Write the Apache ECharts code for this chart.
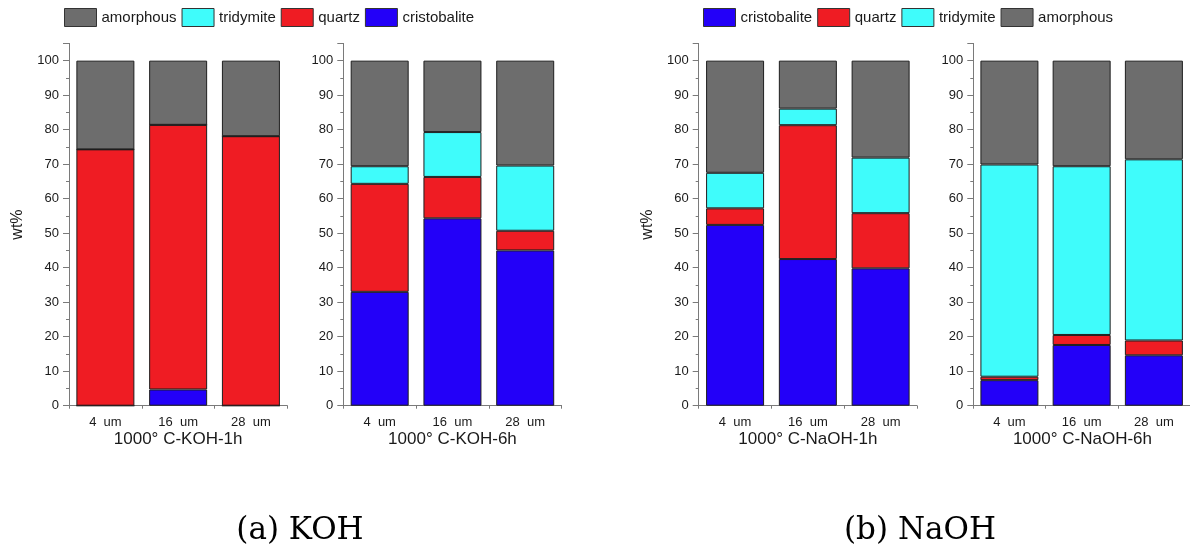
<!DOCTYPE html>
<html>
<head>
<meta charset="utf-8">
<script src="https://cdn.jsdelivr.net/npm/echarts@6/dist/echarts.min.js"></script>
<style>
html,body{margin:0;padding:0;background:#fff;}
#chart{width:1190px;height:551px;}
</style>
</head>
<body>
<div id="chart"></div>
<script>
// ---- data ----
var categories = ['4  um', '16  um', '28  um'];
var phases = ['cristobalite', 'quartz', 'tridymite', 'amorphous'];
var panelTitles = ['1000° C-KOH-1h', '1000° C-KOH-6h', '1000° C-NaOH-1h', '1000° C-NaOH-6h'];
var captions = ['(a) KOH', '(b) NaOH'];
var yTicks = [0, 10, 20, 30, 40, 50, 60, 70, 80, 90, 100];

var koh1h_cristobalite = [0, 4.7, 0];
var koh1h_quartz       = [74.3, 76.7, 78.1];
var koh1h_tridymite    = [0, 0, 0];
var koh1h_amorphous    = [25.7, 18.6, 21.9];

var koh6h_cristobalite = [33.0, 54.3, 45.0];
var koh6h_quartz       = [31.3, 12.0, 5.7];
var koh6h_tridymite    = [5.1, 13.0, 18.9];
var koh6h_amorphous    = [30.6, 20.7, 30.4];

var naoh1h_cristobalite = [52.4, 42.5, 39.8];
var naoh1h_quartz       = [4.8, 38.8, 16.0];
var naoh1h_tridymite    = [10.3, 4.8, 16.1];
var naoh1h_amorphous    = [32.5, 13.9, 28.1];

var naoh6h_cristobalite = [7.4, 17.6, 14.6];
var naoh6h_quartz       = [1.0, 2.9, 4.3];
var naoh6h_tridymite    = [61.5, 48.9, 52.5];
var naoh6h_amorphous    = [30.1, 30.6, 28.6];

var panelData = [
  [koh1h_cristobalite, koh1h_quartz, koh1h_tridymite, koh1h_amorphous],
  [koh6h_cristobalite, koh6h_quartz, koh6h_tridymite, koh6h_amorphous],
  [naoh1h_cristobalite, naoh1h_quartz, naoh1h_tridymite, naoh1h_amorphous],
  [naoh6h_cristobalite, naoh6h_quartz, naoh6h_tridymite, naoh6h_amorphous]
];

// ---- styles ----
var colors = {cristobalite: '#2300f8', quartz: '#ef1c23', tridymite: '#3ffcfb', amorphous: '#6d6d6d'};
var gridLefts = [69, 343.3, 698.7, 973.3];
var gridWidth = 218.3;
var gridTop = 43.4;
var gridHeight = 362.3;
var axisColor = '#7a7a7a';
var textColor = '#1a1a1a';
var FONT = '"Liberation Sans", Arial, sans-serif';

var grids = [], xAxes = [], yAxes = [], series = [], graphics = [];

gridLefts.forEach(function (left, g) {
  grids.push({left: left, top: gridTop, width: gridWidth, height: gridHeight});
  xAxes.push({
    type: 'category', gridIndex: g, data: categories,
    axisLine: {lineStyle: {color: axisColor, width: 1}},
    axisTick: {alignWithLabel: true, length: 5, lineStyle: {color: axisColor}},
    axisLabel: {color: textColor, fontSize: 13, fontFamily: FONT, margin: 10}
  });
  xAxes.push({
    type: 'category', gridIndex: g, data: categories, position: 'bottom',
    axisLine: {show: false},
    axisTick: {show: true, length: 3, lineStyle: {color: axisColor}},
    axisLabel: {show: false}
  });
  var showName = (g === 0 || g === 2);
  yAxes.push({
    type: 'value', gridIndex: g, min: 0, max: 105, interval: 10,
    name: showName ? 'wt%' : '', nameLocation: 'middle', nameGap: 43,
    nameTextStyle: {color: textColor, fontSize: 16, fontFamily: FONT},
    axisLine: {show: true, lineStyle: {color: axisColor, width: 1}},
    axisTick: {show: true, length: 6, lineStyle: {color: axisColor}},
    minorTick: {show: true, splitNumber: 2, length: 3, lineStyle: {color: axisColor}},
    splitLine: {show: false},
    axisLabel: {
      color: textColor, fontSize: 13, fontFamily: FONT, margin: 10,
      formatter: function (v) { return yTicks.indexOf(v) >= 0 ? String(v) : ''; }
    }
  });
  phases.forEach(function (p, i) {
    series.push({
      name: p, type: 'bar', stack: 'panel' + g,
      xAxisIndex: 2 * g, yAxisIndex: g,
      barWidth: 58,
      data: panelData[g][i],
      itemStyle: {color: colors[p], borderColor: '#1e1e1e', borderWidth: 1},
      emphasis: {disabled: true}
    });
  });
  graphics.push({
    type: 'text', x: left + gridWidth / 2, y: 439,
    style: {text: panelTitles[g], fill: textColor, font: '17px ' + FONT,
            textAlign: 'center', textVerticalAlign: 'middle'}
  });
});

graphics.push({type: 'text', x: 300, y: 531,
  style: {text: captions[0], fill: '#000', font: '31px "DejaVu Serif", serif', textAlign: 'center', textVerticalAlign: 'middle'}});
graphics.push({type: 'text', x: 920, y: 531,
  style: {text: captions[1], fill: '#000', font: '31px "DejaVu Serif", serif', textAlign: 'center', textVerticalAlign: 'middle'}});

var legendCommon = {
  top: 8, padding: 0, icon: 'rect', itemWidth: 32, itemHeight: 18, itemGap: 5,
  textStyle: {color: textColor, fontSize: 15, fontFamily: FONT},
  itemStyle: {borderColor: '#333', borderWidth: 1},
  selectedMode: false
};

var option = {
  animation: false,
  backgroundColor: '#fff',
  legend: [
    Object.assign({left: 64, data: ['amorphous', 'tridymite', 'quartz', 'cristobalite']}, legendCommon),
    Object.assign({left: 703, data: ['cristobalite', 'quartz', 'tridymite', 'amorphous']}, legendCommon)
  ],
  grid: grids,
  xAxis: xAxes,
  yAxis: yAxes,
  series: series,
  graphic: graphics
};

var chart = echarts.init(document.getElementById('chart'), null, {renderer: 'canvas'});
chart.setOption(option);
</script>
</body>
</html>
